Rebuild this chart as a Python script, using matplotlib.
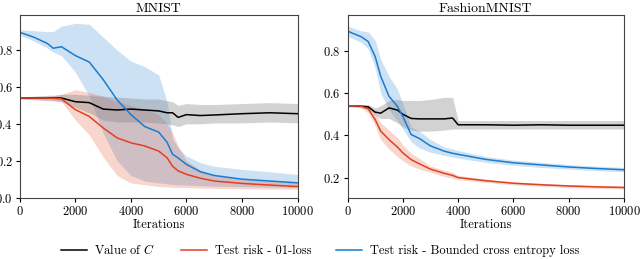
import matplotlib
matplotlib.use("Agg")
import matplotlib.pyplot as plt
import numpy as np

plt.rcParams['font.family'] = ['cmr10', 'DejaVu Serif']
plt.rcParams['mathtext.fontset'] = 'cm'
plt.rcParams['axes.formatter.use_mathtext'] = True
plt.rcParams['font.size'] = 9

BLUE = '#1a7bd0'
RED = '#e0401f'

# MNIST (left panel)
mn_x = [0, 500, 1000, 1200, 1500, 2000, 2500, 3000, 3500, 4000, 4500, 5000, 5300, 5500,
        5700, 6000, 6500, 7000, 8000, 9000, 10000]
mn_c = [0.54, 0.54, 0.54, 0.54, 0.54, 0.52, 0.515, 0.48, 0.475, 0.48, 0.475, 0.47, 0.46,
        0.46, 0.435, 0.45, 0.445, 0.448, 0.455, 0.46, 0.455]
mn_c_lo = [0.535, 0.53, 0.525, 0.525, 0.52, 0.49, 0.46, 0.42, 0.41, 0.41, 0.41, 0.405, 0.40,
           0.395, 0.385, 0.40, 0.40, 0.405, 0.405, 0.41, 0.405]
mn_c_hi = [0.545, 0.55, 0.555, 0.555, 0.56, 0.56, 0.555, 0.55, 0.545, 0.54, 0.535, 0.535,
           0.525, 0.52, 0.50, 0.51, 0.505, 0.505, 0.51, 0.515, 0.51]
mn_r = [0.54, 0.54, 0.54, 0.538, 0.535, 0.477, 0.44, 0.378, 0.324, 0.297, 0.28, 0.252, 0.216,
        0.17, 0.145, 0.126, 0.105, 0.09, 0.077, 0.068, 0.06]
mn_r_lo = [0.535, 0.535, 0.53, 0.528, 0.52, 0.42, 0.34, 0.22, 0.12, 0.08, 0.07, 0.06, 0.058,
           0.056, 0.055, 0.055, 0.052, 0.05, 0.048, 0.046, 0.045]
mn_r_hi = [0.545, 0.545, 0.55, 0.552, 0.56, 0.585, 0.57, 0.55, 0.52, 0.50, 0.48, 0.45, 0.40,
           0.35, 0.28, 0.20, 0.15, 0.12, 0.10, 0.09, 0.08]
mn_b = [0.896, 0.87, 0.835, 0.81, 0.818, 0.77, 0.735, 0.64, 0.53, 0.45, 0.385, 0.355, 0.30,
        0.235, 0.215, 0.18, 0.14, 0.12, 0.10, 0.09, 0.08]
mn_b_lo = [0.88, 0.85, 0.81, 0.79, 0.77, 0.68, 0.55, 0.35, 0.20, 0.12, 0.09, 0.08, 0.075,
           0.072, 0.07, 0.068, 0.065, 0.062, 0.06, 0.057, 0.055]
mn_b_hi = [0.91, 0.905, 0.90, 0.90, 0.93, 0.945, 0.94, 0.87, 0.80, 0.74, 0.71, 0.665, 0.52,
           0.32, 0.27, 0.225, 0.19, 0.17, 0.153, 0.14, 0.125]

# FashionMNIST (right panel)
fm_x = [0, 250, 500, 750, 1000, 1200, 1500, 1800, 2000, 2300, 2600, 3000, 3500, 3800,
        4000, 5000, 6000, 7000, 8000, 9000, 10000]
fm_c = [0.54, 0.54, 0.538, 0.535, 0.51, 0.505, 0.53, 0.52, 0.50, 0.48, 0.478, 0.478,
        0.478, 0.482, 0.45, 0.45, 0.448, 0.45, 0.448, 0.448, 0.448]
fm_c_lo = [0.535, 0.535, 0.53, 0.525, 0.495, 0.48, 0.48, 0.46, 0.44, 0.425, 0.42,
           0.42, 0.425, 0.43, 0.43, 0.43, 0.43, 0.43, 0.43, 0.43, 0.43]
fm_c_hi = [0.545, 0.545, 0.545, 0.545, 0.53, 0.54, 0.565, 0.57, 0.565, 0.565, 0.565,
           0.57, 0.58, 0.58, 0.47, 0.47, 0.47, 0.47, 0.47, 0.47, 0.47]
fm_r = [0.54, 0.54, 0.538, 0.525, 0.475, 0.42, 0.38, 0.345, 0.317, 0.285, 0.265, 0.24,
        0.22, 0.21, 0.20, 0.185, 0.173, 0.166, 0.16, 0.156, 0.153]
fm_r_lo = [0.535, 0.535, 0.53, 0.505, 0.445, 0.38, 0.335, 0.30, 0.28, 0.255, 0.24,
           0.225, 0.205, 0.197, 0.19, 0.177, 0.166, 0.159, 0.153, 0.149, 0.146]
fm_r_hi = [0.545, 0.545, 0.545, 0.54, 0.505, 0.46, 0.425, 0.39, 0.355, 0.315, 0.29,
           0.255, 0.235, 0.225, 0.21, 0.193, 0.18, 0.173, 0.167, 0.163, 0.16]
fm_b = [0.894, 0.88, 0.867, 0.844, 0.773, 0.68, 0.585, 0.538, 0.49, 0.404, 0.385,
        0.35, 0.325, 0.315, 0.31, 0.286, 0.27, 0.26, 0.25, 0.243, 0.237]
fm_b_lo = [0.87, 0.855, 0.84, 0.81, 0.72, 0.60, 0.52, 0.47, 0.43, 0.37, 0.34, 0.32,
           0.305, 0.297, 0.292, 0.272, 0.258, 0.248, 0.24, 0.233, 0.227]
fm_b_hi = [0.92, 0.905, 0.895, 0.89, 0.85, 0.76, 0.68, 0.62, 0.55, 0.44, 0.42, 0.38,
           0.345, 0.335, 0.328, 0.30, 0.283, 0.272, 0.262, 0.254, 0.248]

fig = plt.figure(figsize=(6.4, 2.59), dpi=100)
ax1 = fig.add_axes([0.031, 0.237, 0.434, 0.705])
ax2 = fig.add_axes([0.543, 0.237, 0.432, 0.705])


def panel(ax, x, c, c_lo, c_hi, r, r_lo, r_hi, b, b_lo, b_hi, title):
    ax.fill_between(x, b_lo, b_hi, color=BLUE, alpha=0.22, lw=0)
    ax.fill_between(x, r_lo, r_hi, color=RED, alpha=0.22, lw=0)
    ax.fill_between(x, c_lo, c_hi, color='gray', alpha=0.35, lw=0)
    l1, = ax.plot(x, c, color='black', lw=1.1, label='Value of $C$')
    l2, = ax.plot(x, r, color=RED, lw=1.1, label='Test risk - 01-loss')
    l3, = ax.plot(x, b, color=BLUE, lw=1.1, label='Test risk - Bounded cross entropy loss')
    ax.set_xlim(0, 10000)
    ax.set_xticks([0, 2000, 4000, 6000, 8000, 10000])
    ax.set_xlabel('Iterations', labelpad=1)
    ax.set_title(title, pad=2, fontsize=10)
    for s in ax.spines.values():
        s.set_color('#444444')
        s.set_linewidth(0.8)
    ax.tick_params(length=3, pad=2)
    return [l1, l2, l3]


handles = panel(ax1, mn_x, mn_c, mn_c_lo, mn_c_hi, mn_r, mn_r_lo, mn_r_hi,
                mn_b, mn_b_lo, mn_b_hi, 'MNIST')
ax1.set_ylim(0, 0.99)
ax1.set_yticks([0.0, 0.2, 0.4, 0.6, 0.8])

panel(ax2, fm_x, fm_c, fm_c_lo, fm_c_hi, fm_r, fm_r_lo, fm_r_hi,
      fm_b, fm_b_lo, fm_b_hi, 'FashionMNIST')
ax2.set_ylim(0.105, 0.97)
ax2.set_yticks([0.2, 0.4, 0.6, 0.8])

fig.legend(handles=handles, loc='center', bbox_to_anchor=(0.5, 0.034), ncol=3,
           frameon=False, handlelength=2.1, handletextpad=0.6, columnspacing=2.0,
           borderpad=0.1)

fig.savefig('out.png', dpi=100)
